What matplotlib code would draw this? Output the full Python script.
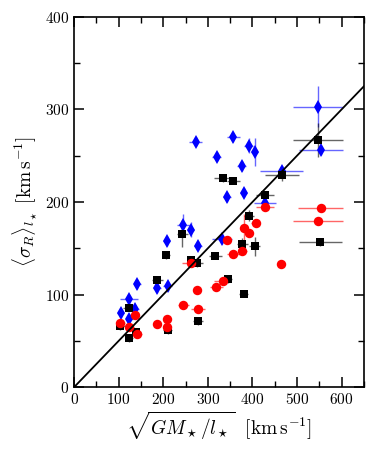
"""
Velocity dispersion vs sqrt(GM/l) scatter, three estimators
"""

import matplotlib
matplotlib.use('Agg')
import matplotlib.pyplot as plt
from matplotlib.ticker import MultipleLocator
import numpy as np

plt.rcParams['font.family'] = 'serif'
plt.rcParams['font.serif'] = ['cmr10']
plt.rcParams['mathtext.fontset'] = 'cm'
plt.rcParams['axes.formatter.use_mathtext'] = True

# blue diamonds
blue_x = [105, 123, 124, 137, 142, 186, 208, 210, 245, 262, 273, 278, 320, 332,
          343, 357, 376, 380, 392, 405, 428, 466, 548, 554]
blue_y = [80, 95, 74, 84, 111, 107, 158, 109, 175, 170, 265, 153, 249, 160,
          205, 270, 239, 210, 261, 254, 199, 234, 303, 256]
blue_xerr = [8, 20, 8, 8, 8, 10, 8, 10, 15, 8, 15, 8, 10, 22,
             8, 15, 10, 8, 10, 8, 25, 48, 56, 50]
blue_yerr = [5, 5, 5, 5, 5, 5, 5, 5, 12, 8, 5, 5, 5, 5,
             5, 5, 5, 5, 8, 15, 5, 5, 22, 5]

# black squares
black_x = [104, 124, 124, 140, 187, 207, 210, 243, 263, 275, 278, 317, 333,
           345, 357, 377, 380, 392, 405, 429, 466, 547, 552]
black_y = [66, 86, 53, 60, 116, 143, 62, 166, 137, 134, 71, 142, 226,
           117, 223, 155, 101, 185, 152, 208, 229, 267, 157]
black_xerr = [10, 15, 8, 10, 12, 8, 10, 12, 10, 15, 12, 15, 20,
              10, 15, 12, 10, 12, 12, 20, 38, 57, 48]
black_yerr = [4, 4, 4, 4, 4, 4, 4, 15, 4, 4, 4, 4, 4,
              4, 4, 6, 4, 6, 10, 4, 6, 18, 4]

# red circles
red_x = [104, 124, 137, 142, 186, 209, 209, 245, 263, 275, 278, 319, 333,
         344, 357, 377, 380, 392, 407, 429, 464, 548, 553]
red_y = [69, 65, 78, 58, 68, 74, 65, 89, 134, 105, 85, 108, 115,
         159, 144, 147, 172, 167, 177, 195, 133, 180, 194]
red_xerr = [10, 10, 8, 10, 10, 8, 8, 12, 20, 8, 15, 15, 20,
            8, 15, 10, 8, 8, 10, 20, 10, 56, 50]
red_yerr = [4, 4, 4, 4, 4, 4, 4, 4, 4, 4, 4, 4, 4,
            4, 4, 4, 15, 4, 4, 4, 4, 4, 4]

fig = plt.figure(figsize=(3.74, 4.55), dpi=100)
ax = fig.add_axes([0.198, 0.149, 0.775, 0.814])

series = [
    (blue_x, blue_y, blue_xerr, blue_yerr, '#0000ff', 'd', 7.5),
    (black_x, black_y, black_xerr, black_yerr, 'black', 's', 6.3),
    (red_x, red_y, red_xerr, red_yerr, '#ff0000', 'o', 6.8),
]
for x, y, xe, ye, c, m, ms in series:
    ax.errorbar(x, y, xerr=xe, yerr=ye, fmt='none', ecolor=c, elinewidth=1.0,
                alpha=0.6, zorder=2)
    ax.plot(x, y, linestyle='none', marker=m, color=c, markersize=ms,
            markeredgewidth=0, zorder=3)

# straight relation through the origin
xl = np.array([0, 650])
ax.plot(xl, 0.5 * xl, color='black', linewidth=1.3, zorder=4)

ax.set_xlim(0, 650)
ax.set_ylim(0, 400)
ax.xaxis.set_major_locator(MultipleLocator(100))
ax.xaxis.set_minor_locator(MultipleLocator(50))
ax.yaxis.set_major_locator(MultipleLocator(100))
ax.yaxis.set_minor_locator(MultipleLocator(50))
ax.tick_params(which='both', direction='in', top=True, right=True, labelsize=11)
ax.tick_params(which='major', length=7, width=1.1)
ax.tick_params(which='minor', length=4.5, width=1.0)
for s in ax.spines.values():
    s.set_linewidth(1.2)

ax.set_xlabel(r'$\sqrt{GM_\star/l_\star}\ \ [\mathrm{km\,s^{-1}}]$', fontsize=14,
              labelpad=2)
ax.set_ylabel(r'$\langle\sigma_R\rangle_{l_\star}\ [\mathrm{km\,s^{-1}}]$', fontsize=14,
              labelpad=4)

plt.savefig('out.png', dpi=100)
